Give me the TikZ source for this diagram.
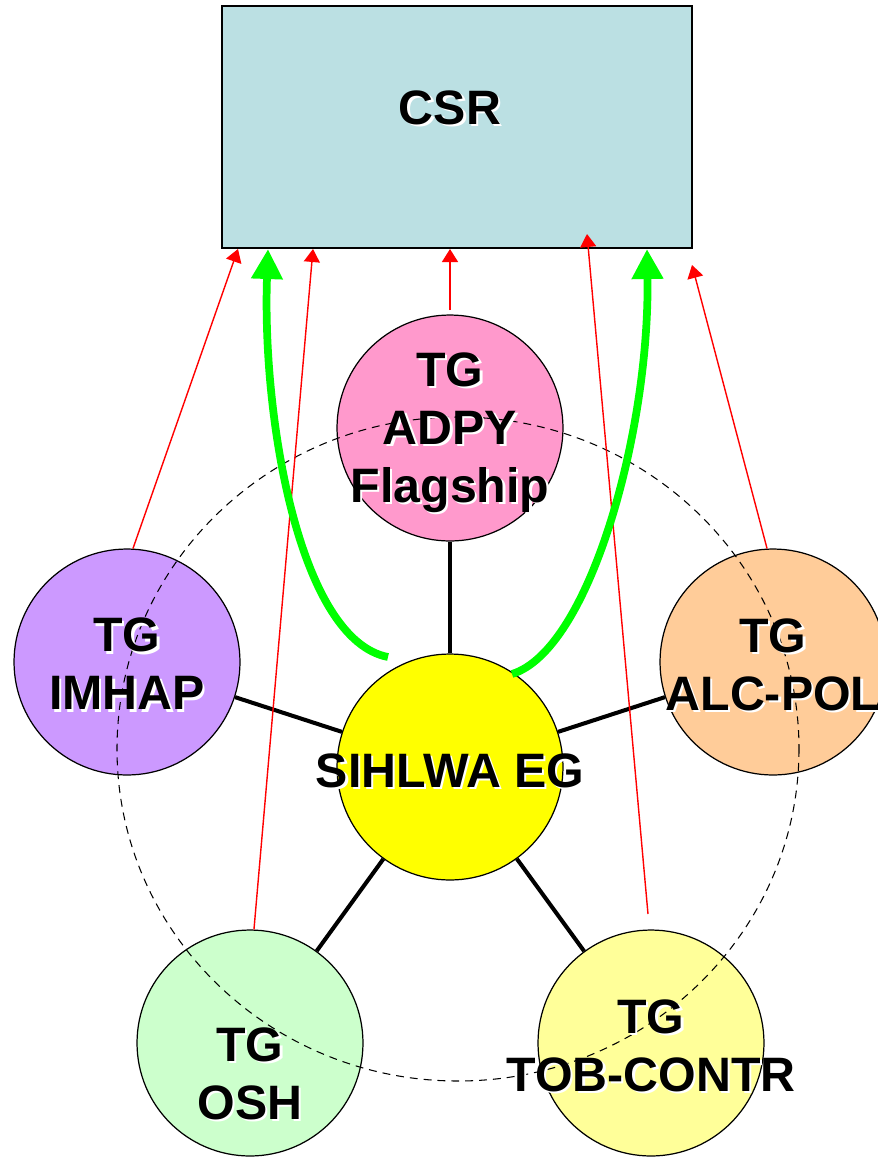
\documentclass[tikz,border=0pt]{standalone}
\usepackage{fontspec}
\setmainfont{Liberation Sans}
\usetikzlibrary{arrows.meta}
\usepackage{xcolor}
\definecolor{csrblue}{RGB}{187,224,227}
\definecolor{adpypink}{RGB}{255,153,204}
\definecolor{imhapviolet}{RGB}{204,153,255}
\definecolor{alcorange}{RGB}{255,204,153}
\definecolor{oshgreen}{RGB}{204,255,204}
\definecolor{tobyellow}{RGB}{255,255,153}
\definecolor{egyellow}{RGB}{255,255,0}
\definecolor{flowgreen}{RGB}{0,255,0}
\definecolor{flowred}{RGB}{255,0,0}
\newcommand{\sh}[1]{\makebox[0pt][l]{\hspace{1.3pt}\raisebox{-1.3pt}{\textcolor{white}{#1}}}#1}
\begin{document}
\begin{tikzpicture}[x=0.02cm,y=-0.02cm,
	tg/.style={circle,draw,line width=0.7pt,minimum size=4.52cm,inner sep=0pt},
	lbl/.style={font=\fontsize{27.5}{33}\selectfont\bfseries,align=center,inner sep=0pt},
	spoke/.style={line width=2.3pt},
	redarr/.style={flowred,line width=0.8pt,-{Triangle[length=0.26cm,width=0.32cm]}},
	greenarr/.style={flowgreen,line width=4.4pt,-{Triangle[length=0.6cm,width=0.6cm]}}]
\useasboundingbox (0,0) rectangle (877,1157);

\node[draw,fill=csrblue,line width=0.9pt,minimum width=9.4cm,minimum height=4.84cm,inner sep=0pt] (csr) at (457,127) {};
\node[tg,fill=adpypink] (adpy) at (450,428) {};
\node[tg,fill=imhapviolet] (imhap) at (127,662) {};
\node[tg,fill=alcorange] (alc) at (773,662) {};
\node[tg,fill=oshgreen] (osh) at (250,1043) {};
\node[tg,fill=tobyellow] (tob) at (651,1043) {};
\node[tg,fill=egyellow] (eg) at (450,767) {};

\foreach \n in {adpy,imhap,alc,osh,tob}{
	\draw[spoke] (eg) -- (\n);
	}

\draw[dash pattern=on 4.5pt off 3.4pt,line width=0.6pt] (458,749) ellipse [x radius=341, y radius=332];

%% ends of the arrows
\coordinate (imhaptip) at (238,249);
\coordinate (oshtip) at (313,249);
\coordinate (adpyfoot) at (450,310);
\coordinate (adpytip) at (450,249);
\coordinate (tobfoot) at (648,914);
\coordinate (tobtip) at (587,234);
\coordinate (alctip) at (692,265);
\coordinate (leftfoot) at (388,657);
\coordinate (lefttip) at (268,249);
\coordinate (rightfoot) at (512,674);
\coordinate (righttip) at (647,249);

\draw[redarr] (imhap.87) -- (imhaptip);
\draw[redarr] (osh.88) -- (oshtip);
\draw[redarr] (adpyfoot) -- (adpytip);
\draw[redarr] (tobfoot) -- (tobtip);
\draw[redarr] (alc.93) -- (alctip);

\draw[greenarr] (leftfoot) .. controls (300,640) and (262,420) .. (lefttip);
\draw[greenarr] (rightfoot) .. controls (590,650) and (650,430) .. (righttip);

\node[lbl] (csrtxt) at (450,109) {\sh{CSR}};
\node[lbl] (adpytxt) at (450,434) {\sh{TG}\\\sh{ADPY}\\\sh{Flagship}};
\node[lbl] (imhaptxt) at (127,665) {\sh{TG}\\\sh{IMHAP}};
\node[lbl] (alctxt) at (773,666) {\sh{TG}\\\sh{ALC-POL}};
\node[lbl] (oshtxt) at (250,1075) {\sh{TG}\\\sh{OSH}};
\node[lbl] (tobtxt) at (651,1047) {\sh{TG}\\\sh{TOB-CONTR}};
\node[lbl] (egtxt) at (450,772) {\sh{SIHLWA EG}};
\end{tikzpicture}
\end{document}
